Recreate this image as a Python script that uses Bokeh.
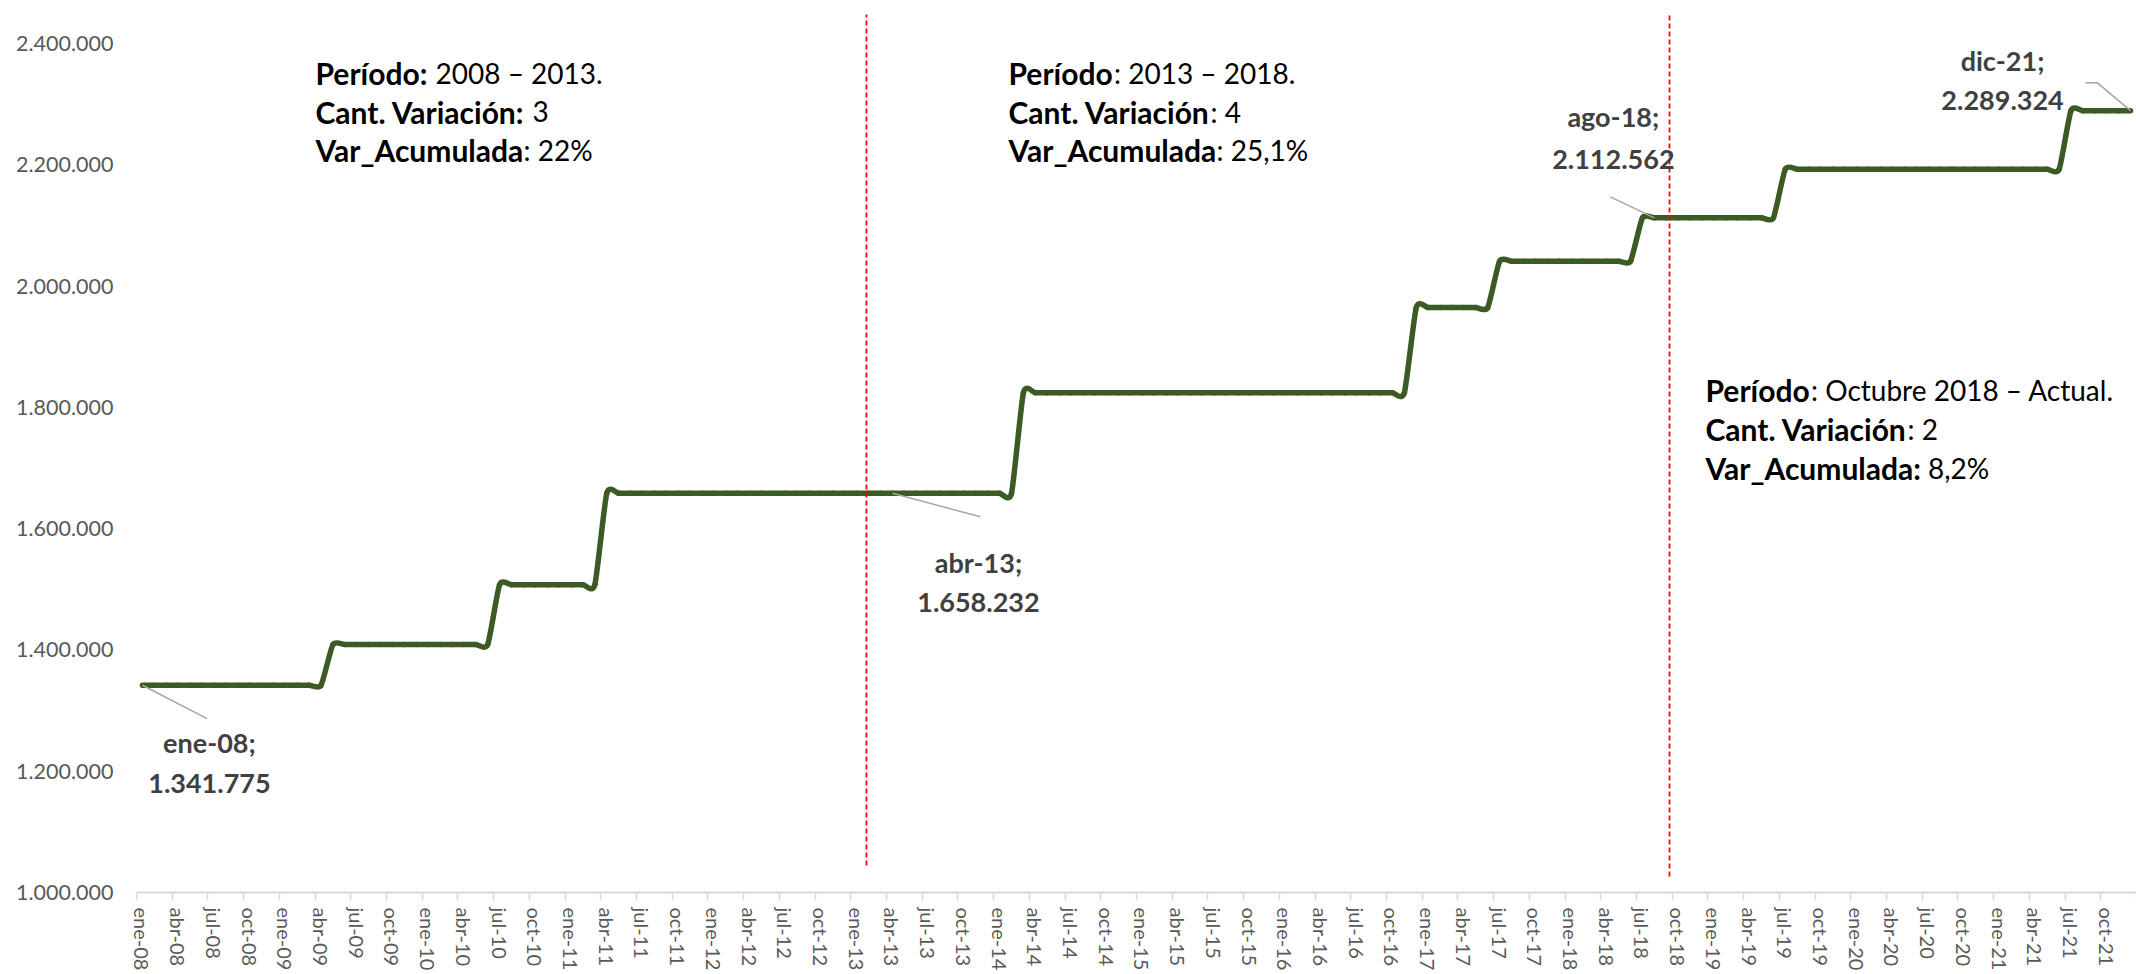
import numpy as np
from bokeh.plotting import figure
from bokeh.models import Range1d, FixedTicker, ColumnDataSource
from bokeh.core.properties import value
from bokeh.embed import file_html
from bokeh.resources import INLINE

# ---------------- datos ----------------
meses = ["ene", "feb", "mar", "abr", "may", "jun", "jul", "ago", "sep", "oct", "nov", "dic"]
anios = ["08", "09", "10", "11", "12", "13", "14", "15", "16", "17", "18", "19", "20", "21"]
fechas = [f"{m}-{a}" for a in anios for m in meses]

salario = [
    # 2008
    1341775, 1341775, 1341775, 1341775, 1341775, 1341775, 1341775, 1341775, 1341775, 1341775, 1341775, 1341775,
    # 2009
    1341775, 1341775, 1341775, 1341775, 1408863, 1408863, 1408863, 1408863, 1408863, 1408863, 1408863, 1408863,
    # 2010
    1408863, 1408863, 1408863, 1408863, 1408863, 1408863, 1507484, 1507484, 1507484, 1507484, 1507484, 1507484,
    # 2011
    1507484, 1507484, 1507484, 1658232, 1658232, 1658232, 1658232, 1658232, 1658232, 1658232, 1658232, 1658232,
    # 2012
    1658232, 1658232, 1658232, 1658232, 1658232, 1658232, 1658232, 1658232, 1658232, 1658232, 1658232, 1658232,
    # 2013
    1658232, 1658232, 1658232, 1658232, 1658232, 1658232, 1658232, 1658232, 1658232, 1658232, 1658232, 1658232,
    # 2014
    1658232, 1658232, 1824055, 1824055, 1824055, 1824055, 1824055, 1824055, 1824055, 1824055, 1824055, 1824055,
    # 2015
    1824055, 1824055, 1824055, 1824055, 1824055, 1824055, 1824055, 1824055, 1824055, 1824055, 1824055, 1824055,
    # 2016
    1824055, 1824055, 1824055, 1824055, 1824055, 1824055, 1824055, 1824055, 1824055, 1824055, 1824055, 1964507,
    # 2017
    1964507, 1964507, 1964507, 1964507, 1964507, 1964507, 2041123, 2041123, 2041123, 2041123, 2041123, 2041123,
    # 2018
    2041123, 2041123, 2041123, 2041123, 2041123, 2041123, 2112562, 2112562, 2112562, 2112562, 2112562, 2112562,
    # 2019
    2112562, 2112562, 2112562, 2112562, 2112562, 2112562, 2192839, 2192839, 2192839, 2192839, 2192839, 2192839,
    # 2020
    2192839, 2192839, 2192839, 2192839, 2192839, 2192839, 2192839, 2192839, 2192839, 2192839, 2192839, 2192839,
    # 2021
    2192839, 2192839, 2192839, 2192839, 2192839, 2192839, 2289324, 2289324, 2289324, 2289324, 2289324, 2289324,
]

x_tick_pos = list(range(0, len(fechas), 3))
x_tick_labels = fechas[::3]

y_ticks = [1000000, 1200000, 1400000, 1600000, 1800000, 2000000, 2200000, 2400000]
y_tick_labels = ["1.000.000", "1.200.000", "1.400.000", "1.600.000",
                 "1.800.000", "2.000.000", "2.200.000", "2.400.000"]

# puntos etiquetados
puntos_idx = [0, 63, 127, 167]

# bloques de texto
bloques_negrita = [["Período:", "Cant. Variación:", "Var_Acumulada"],
                   ["Período", "Cant. Variación", "Var_Acumulada"],
                   ["Período", "Cant. Variación", "Var_Acumulada:"]]
bloques_normal = [["2008 – 2013.", "3", ": 22%"],
                  [": 2013 – 2018.", ": 4", ": 25,1%"],
                  [": Octubre 2018 – Actual.", ": 2", "8,2%"]]

# ---------------- estilo / posiciones ----------------
VERDE = "#3B5A24"
GRIS_TXT = "#595959"
FONT = "Lato"

W, H = 2136, 974
FL, FR, FT, FB = 136, 2136, 0, 892           # frame edges (page px)
X0, X1 = -0.5, len(fechas) - 0.5
PX_Y = 606.4e-6                              # px per unit (y)
Y0 = 1_000_000
Y1 = Y0 + (FB - FT) / PX_Y
PX_X = (FR - FL) / (X1 - X0)

def ref_x(px):
    return (px - FL) / PX_X - 0.5

def ref_y(py):
    return Y0 + (FB - py) / PX_Y

bloques_x_px = [315, 1008, 1705]
bloques_y_px = [[72, 111, 149], [72, 111, 149], [389, 428, 467]]
bloques_off = [[120, 217, 208], [105.5, 202, 208], [105.5, 202, 222.5]]

etq_dx = [67, 86, -41, -128]
etq_dy1 = [57, 69.5, -101.5, -50]
etq_dy2 = [98, 109.5, -58.5, -10]
lider = [[(0, 0), (64.6, 33.4)],
         [(0, 0), (88, 23.5)],
         [(0, 0), (-44, -21)],
         [(0, 0), (-33.5, -28), (-45, -28)]]

separadores = [(ref_x(866), ref_y(14), ref_y(865)),
               (ref_x(1669), ref_y(14), ref_y(876))]

# ---------------- figura ----------------
p = figure(width=W, height=H, x_range=Range1d(X0, X1), y_range=Range1d(Y0, Y1),
           output_backend="svg", toolbar_location=None,
           min_border_left=FL, min_border_right=W - FR, min_border_top=FT,
           min_border_bottom=H - FB)
p.outline_line_color = None
p.xgrid.grid_line_color = None
p.ygrid.grid_line_color = None
p.background_fill_color = "white"

# eje x
p.xaxis.ticker = FixedTicker(ticks=x_tick_pos,
                             minor_ticks=[i - 0.5 for i in range(0, len(fechas) + 1, 3)])
p.xaxis.major_label_overrides = {t: l for t, l in zip(x_tick_pos, x_tick_labels)}
p.xaxis.major_label_orientation = "vertical"
p.xaxis.axis_line_color = "#D9D9D9"
p.xaxis.axis_line_width = 2
p.xaxis.major_tick_line_color = None
p.xaxis.major_tick_out = 0
p.xaxis.major_tick_in = 0
p.xaxis.minor_tick_line_color = "#D9D9D9"
p.xaxis.minor_tick_line_width = 1.5
p.xaxis.minor_tick_out = 8
p.xaxis.minor_tick_in = 0
p.xaxis.major_label_standoff = 7
p.xaxis.major_label_text_font = FONT
p.xaxis.major_label_text_font_size = "20px"
p.xaxis.major_label_text_color = GRIS_TXT

# eje y
p.yaxis.ticker = FixedTicker(ticks=y_ticks, minor_ticks=[])
p.yaxis.major_label_overrides = {t: l for t, l in zip(y_ticks, y_tick_labels)}
p.yaxis.axis_line_color = None
p.yaxis.major_tick_line_color = None
p.yaxis.minor_tick_line_color = None
p.yaxis.major_tick_out = 0
p.yaxis.major_tick_in = 0
p.yaxis.major_label_standoff = 23
p.yaxis.major_label_text_font = FONT
p.yaxis.major_label_text_font_size = "21.5px"
p.yaxis.major_label_text_color = GRIS_TXT

# línea suavizada (Bezier, estilo Excel)
x = np.arange(len(salario), dtype=float)
y = np.array(salario, dtype=float)
n = len(x)
j = np.arange(n - 1)
jm = np.maximum(j - 1, 0)
jp = np.minimum(j + 2, n - 1)
s = 0.1
p.bezier(x0=x[j], y0=y[j], x1=x[j + 1], y1=y[j + 1],
         cx0=x[j] + (x[j + 1] - x[jm]) * s, cy0=y[j] + (y[j + 1] - y[jm]) * s,
         cx1=x[j + 1] - (x[jp] - x[j]) * s, cy1=y[j + 1] - (y[jp] - y[j]) * s,
         line_color=VERDE, line_width=5.5, line_cap="round")

# líneas guía de etiquetas
xs, ys = [], []
for k, i in enumerate(puntos_idx):
    xs.append([x[i] + dx / PX_X for dx, dy in lider[k]])
    ys.append([y[i] - dy / PX_Y for dx, dy in lider[k]])
p.multi_line(xs=xs, ys=ys, line_color="#A6A6A6", line_width=1.5)

# separadores rojos
for sx, sy_top, sy_bot in separadores:
    p.segment(x0=[sx], y0=[sy_bot], x1=[sx], y1=[sy_top],
              line_color="#FF0000", line_width=1.8, line_dash="5 3")

# etiquetas de datos
src_etq = ColumnDataSource(dict(
    x=[x[i] for i in puntos_idx], y=[y[i] for i in puntos_idx],
    t1=[fechas[i] + ";" for i in puntos_idx],
    t2=[f"{salario[i]:,}".replace(",", ".") for i in puntos_idx],
    dx=etq_dx, dy1=etq_dy1, dy2=etq_dy2))
for col, dycol in (("t1", "dy1"), ("t2", "dy2")):
    p.text(x="x", y="y", text=col, x_offset="dx", y_offset=dycol, source=src_etq,
           text_font=value(FONT), text_font_style="bold", text_font_size="27px",
           text_color="#404040", text_align="center", text_baseline="middle")

# bloques de texto
bx, by, tb, tn, off = [], [], [], [], []
for b in range(3):
    for l in range(3):
        bx.append(ref_x(bloques_x_px[b]))
        by.append(ref_y(bloques_y_px[b][l]))
        tb.append(bloques_negrita[b][l])
        tn.append(bloques_normal[b][l])
        off.append(bloques_off[b][l])
src_b = ColumnDataSource(dict(x=bx, y=by, tb=tb, tn=tn, off=off))
p.text(x="x", y="y", text="tb", source=src_b, text_font=value(FONT),
       text_font_style="bold", text_font_size="30px", text_color="black",
       text_align="left", text_baseline="middle")
p.text(x="x", y="y", text="tn", x_offset="off", source=src_b, text_font=value(FONT),
       text_font_size="28px", text_color="black",
       text_align="left", text_baseline="middle")

open("out.html", "w").write(file_html(p, INLINE))
